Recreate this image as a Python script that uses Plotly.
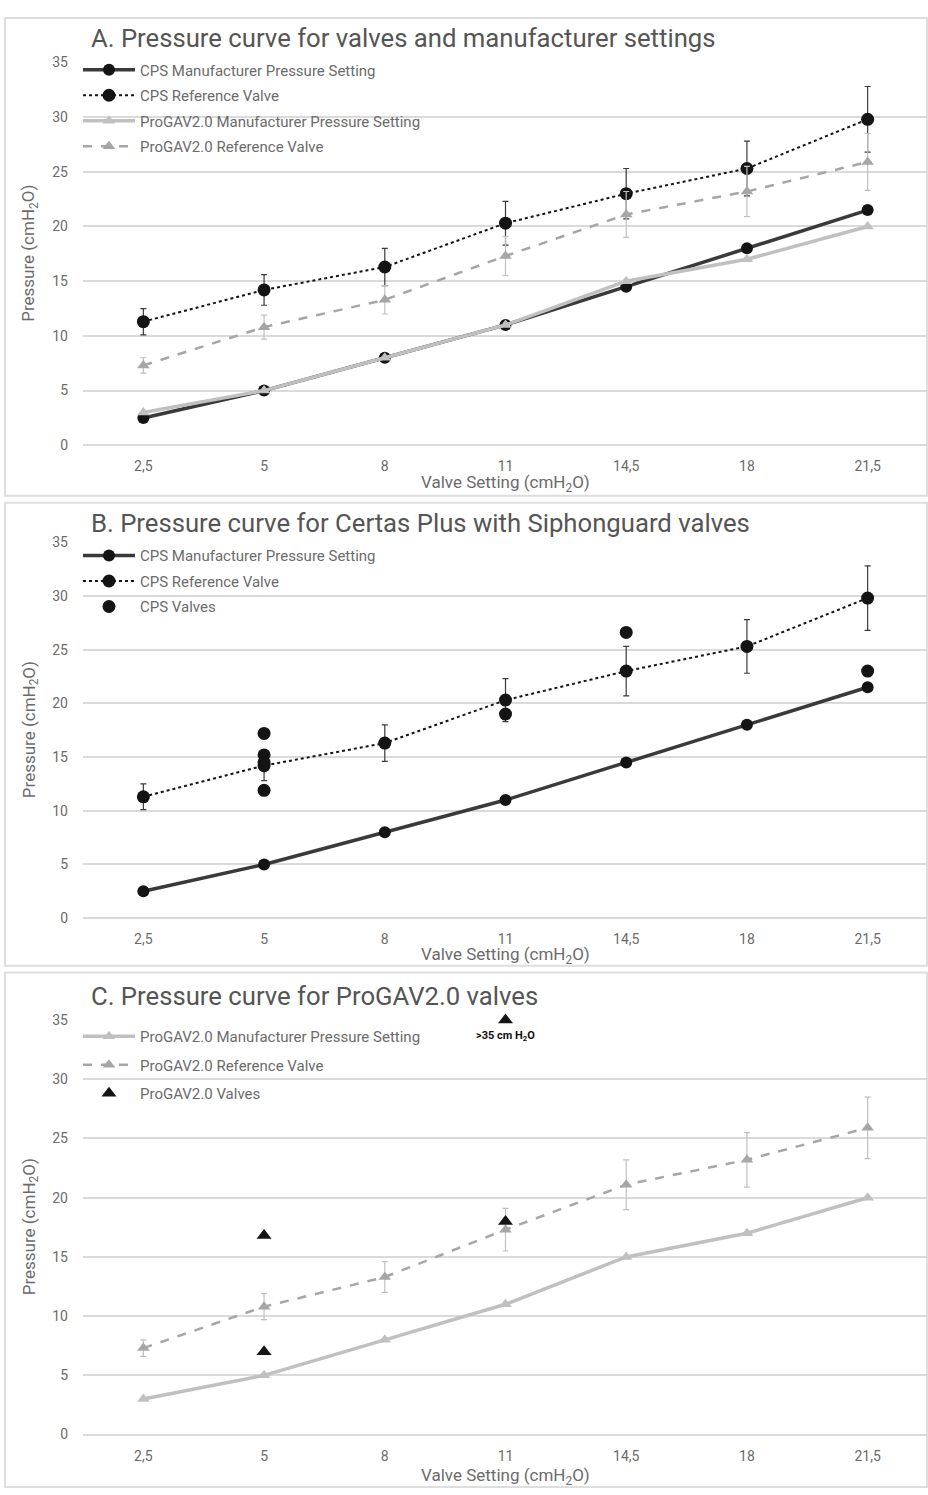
import plotly.graph_objects as go

categories = ["2,5", "5", "8", "11", "14,5", "18", "21,5"]

cps_manufacturer = [2.5, 5, 8, 11, 14.5, 18, 21.5]
cps_reference = [11.3, 14.2, 16.3, 20.3, 23.0, 25.3, 29.8]
cps_reference_err = [1.2, 1.4, 1.7, 2.0, 2.3, 2.5, 3.0]

progav_manufacturer = [3, 5, 8, 11, 15, 17, 20]
progav_reference = [7.3, 10.8, 13.3, 17.3, 21.1, 23.2, 25.9]
progav_reference_err = [0.7, 1.1, 1.3, 1.8, 2.1, 2.3, 2.6]

cps_valves_x = ["5", "5", "5", "5", "11", "14,5", "21,5"]
cps_valves_y = [17.2, 15.2, 14.5, 11.9, 19.0, 26.6, 23.0]

progav_valves_x = ["5", "5", "11", "11"]
progav_valves_y = [16.8, 7.0, 18.0, 35.0]

W, H = 928, 1495
def py(px):
    return 1 - px / H
def pxx(px):
    return px / W

TXT = "#6b6b6b"
FONT = "Liberation Sans Narrow, Roboto, Arial, sans-serif"
BLACK = "#141414"
DARK = "#3a3a3a"
GRAY = "#a6a6a6"
LGRAY = "#c0c0c0"

fig = go.Figure()

def add_cps_manu(ax, legend):
    fig.add_trace(go.Scatter(x=categories, y=cps_manufacturer, mode="lines+markers",
                             name="CPS Manufacturer Pressure Setting",
                             line=dict(color=DARK, width=3.5),
                             marker=dict(symbol="circle", size=12, color=BLACK),
                             xaxis="x" + ax, yaxis="y" + ax, legend=legend,
                             legendgroup=legend + "a"))

def add_cps_ref(ax, legend):
    fig.add_trace(go.Scatter(x=categories, y=cps_reference, mode="lines+markers",
                             name="CPS Reference Valve",
                             line=dict(color=BLACK, width=2, dash="dot"),
                             marker=dict(symbol="circle", size=13, color=BLACK),
                             error_y=dict(type="data", array=cps_reference_err, color=DARK,
                                          thickness=1.2, width=3),
                             xaxis="x" + ax, yaxis="y" + ax, legend=legend,
                             legendgroup=legend + "b"))

def add_pg_manu(ax, legend):
    fig.add_trace(go.Scatter(x=categories, y=progav_manufacturer, mode="lines+markers",
                             name="ProGAV2.0 Manufacturer Pressure Setting",
                             line=dict(color=LGRAY, width=3.5),
                             marker=dict(symbol="triangle-up", size=11, color=LGRAY),
                             xaxis="x" + ax, yaxis="y" + ax, legend=legend,
                             legendgroup=legend + "c"))

def add_pg_ref(ax, legend):
    fig.add_trace(go.Scatter(x=categories, y=progav_reference, mode="lines+markers",
                             name="ProGAV2.0 Reference Valve",
                             line=dict(color=GRAY, width=2.5, dash="dash"),
                             marker=dict(symbol="triangle-up", size=11, color=GRAY),
                             error_y=dict(type="data", array=progav_reference_err, color=LGRAY,
                                          thickness=1.2, width=3),
                             xaxis="x" + ax, yaxis="y" + ax, legend=legend,
                             legendgroup=legend + "d"))

# Panel A
add_cps_manu("", "legend")
add_cps_ref("", "legend")
add_pg_manu("", "legend")
add_pg_ref("", "legend")

# Panel B
add_cps_manu("2", "legend2")
add_cps_ref("2", "legend2")
fig.add_trace(go.Scatter(x=cps_valves_x, y=cps_valves_y, mode="markers", name="CPS Valves",
                         marker=dict(symbol="circle", size=13, color=BLACK),
                         xaxis="x2", yaxis="y2", legend="legend2", legendgroup="legend2e"))

# Panel C
add_pg_manu("3", "legend3")
add_pg_ref("3", "legend3")
fig.add_trace(go.Scatter(x=progav_valves_x, y=progav_valves_y, mode="markers", name="ProGAV2.0 Valves",
                         marker=dict(symbol="triangle-up", size=13, color=BLACK),
                         cliponaxis=False,
                         xaxis="x3", yaxis="y3", legend="legend3", legendgroup="legend3f"))

panels = [
    # (suffix, top px of 35, bottom px of 0, title, title y, frame top, frame bottom, xtitle offset)
    ("", 55, 442, "A. Pressure curve for valves and manufacturer settings", 30, 10, 493, 39),
    ("2", 540, 920, "B. Pressure curve for Certas Plus with Siphonguard valves", 521, 500, 968, 38),
    ("3", 1023, 1442, "C. Pressure curve for ProGAV2.0 valves", 999, 975, 1495, 42),
]

layout = dict(width=W, height=H, margin=dict(l=0, r=0, t=0, b=0),
              paper_bgcolor="white", plot_bgcolor="white",
              font=dict(family=FONT, color=TXT, size=12), showlegend=True)

annotations = []
shapes = []
for suf, top, bot, title, ty, ftop, fbot, xo in panels:
    layout["xaxis" + suf] = dict(domain=[pxx(83), 1.0], type="category", categoryorder="array",
                                 categoryarray=categories, range=[-0.5, 6.5],
                                 anchor="y" + suf, showgrid=False, showline=False, zeroline=False,
                                 ticks="", tickfont=dict(size=14, color=TXT, family=FONT),
                                 ticklabelstandoff=11)
    layout["yaxis" + suf] = dict(domain=[py(bot), py(top)], range=[0, 35], dtick=5,
                                 anchor="x" + suf, showgrid=True, gridcolor="#dadada", gridwidth=1.5,
                                 zeroline=True, zerolinecolor="#dadada", zerolinewidth=1.5,
                                 showline=False, ticks="", tickfont=dict(size=14, color=TXT, family=FONT),
                                 ticklabelstandoff=14)
    annotations.append(dict(text=title, x=pxx(89), y=py(ty), xref="paper", yref="paper",
                            xanchor="left", yanchor="middle", showarrow=False,
                            font=dict(size=25.7, color="#555555", family=FONT)))
    annotations.append(dict(text="Valve Setting (cmH<sub>2</sub>O)", x=pxx(506), y=py(bot + xo),
                            xref="paper", yref="paper", xanchor="center", yanchor="middle",
                            showarrow=False, font=dict(size=17, color=TXT, family=FONT)))
    annotations.append(dict(text="Pressure (cmH<sub>2</sub>O)", x=pxx(30), y=py((top + bot) / 2),
                            xref="paper", yref="paper", xanchor="center", yanchor="middle",
                            textangle=-90, showarrow=False, font=dict(size=17, color=TXT, family=FONT)))
    shapes.append(dict(type="rect", xref="paper", yref="paper", x0=pxx(5), x1=pxx(927),
                       y0=py(fbot), y1=py(ftop), line=dict(color="#dedede", width=2),
                       fillcolor="rgba(0,0,0,0)", layer="below"))

annotations.append(dict(text="<b>&gt;35 cm H<sub>2</sub>O</b>", x=pxx(505), y=py(1039), xref="paper",
                        yref="paper", xanchor="center", yanchor="middle", showarrow=False,
                        font=dict(size=11, color="#111111", family=FONT)))

leg_common = dict(bgcolor="rgba(0,0,0,0)", traceorder="grouped", xanchor="left", yanchor="top",
                  font=dict(size=15, color=TXT, family=FONT), itemwidth=52)
layout["legend"] = dict(leg_common, x=pxx(78), y=py(46), tracegroupgap=3)
layout["legend2"] = dict(leg_common, x=pxx(78), y=py(537), tracegroupgap=3)
layout["legend3"] = dict(leg_common, x=pxx(78), y=py(1023), tracegroupgap=6)

layout["annotations"] = annotations
layout["shapes"] = shapes
fig.update_layout(**layout)

fig.write_html("out.html")
